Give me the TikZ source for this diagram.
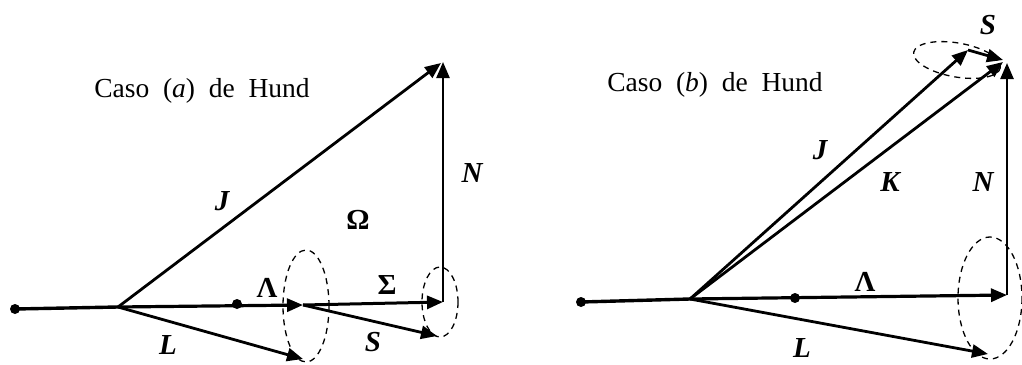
\documentclass[tikz,border=0pt]{standalone}
\usepackage{fontspec}
\setmainfont{Liberation Serif}
\usetikzlibrary{arrows.meta}
\begin{document}
\begin{tikzpicture}[x=1pt,y=-1pt,
  vec/.style={line width=2.8pt,-{Triangle[length=16pt,width=13pt]}},
  axis/.style={line width=3.4pt},
  prec/.style={line width=1.3pt,dash pattern=on 6pt off 5pt},
  pt/.style={circle,fill=black,inner sep=0pt,minimum size=10pt},
  lbl/.style={inner sep=0pt,font=\fontsize{29}{31}\selectfont\bfseries\itshape},
  glbl/.style={inner sep=0pt,font=\fontsize{29}{31}\selectfont\bfseries},
  ttl/.style={inner sep=0pt,font=\fontsize{27.5}{30}\selectfont}]
\useasboundingbox (0,0) rectangle (1022,364);
% ---------------- Case (a)
\node[ttl] (ta) at (202,91) {Caso\ \ (\textit{a})\ \ de\ \ Hund};
\node[pt] (da) at (15,309) {};
\coordinate (Oa) at (118,307);
\node[pt] (ma) at (237,304) {};
\coordinate (La) at (303,305);
\coordinate (Sa) at (443,302);
\coordinate (Ta) at (443,62);
\coordinate (Ja) at (441,63);
\coordinate (Lt) at (303,359);
\coordinate (St) at (437,336);
\draw[prec] (306,306) ellipse [x radius=23, y radius=56];
\draw[prec] (440,302) ellipse [x radius=18, y radius=35];
\draw[axis] (da.center) -- (Oa);
\draw[vec,line width=3.2pt] (Oa) -- (La);
\draw[vec,line width=3pt] (La) -- (Sa);
\draw[vec,line width=2.4pt] (Sa) -- (Ta);
\draw[vec] (Oa) -- (Ja);
\draw[vec] (Oa) -- (Lt);
\draw[vec] (La) -- (St);
\node[lbl] (lJa) at (222,201) {J};
\node[glbl] (lOa) at (358,220) {Ω};
\node[lbl] (lNa) at (472,173) {N};
\node[glbl] (lLama) at (267,288) {Λ};
\node[glbl] (lSiga) at (387,285) {Σ};
\node[lbl] (lLa) at (168,345) {L};
\node[lbl] (lSa) at (373,342) {S};
% ---------------- Case (b)
\node[ttl] (tb) at (715,85) {Caso\ \ (\textit{b})\ \ de\ \ Hund};
\node[pt] (db) at (581,302) {};
\coordinate (Ob) at (690,299);
\node[pt] (mb) at (795,298) {};
\coordinate (Lb) at (1007,295);
\coordinate (Nb) at (1007,63);
\coordinate (Kb) at (1003,62);
\coordinate (Jb) at (968,50);
\coordinate (Sb) at (1003,60);
\coordinate (Ltb) at (988,354);
\draw[prec] (957,60) ellipse [x radius=44, y radius=17, rotate=-10];
\draw[prec] (990,298) ellipse [x radius=32, y radius=61];
\draw[axis] (db.center) -- (Ob);
\draw[vec,line width=3.2pt] (Ob) -- (Lb);
\draw[vec,line width=2.4pt] (Lb) -- (Nb);
\draw[vec] (Ob) -- (Kb);
\draw[vec] (Ob) -- (Jb);
\draw[vec] (Jb) -- (Sb);
\draw[vec] (Ob) -- (Ltb);
\node[lbl] (lJb) at (820,150) {J};
\node[lbl] (lKb) at (890,182) {K};
\node[lbl] (lNb) at (983,182) {N};
\node[glbl] (lLamb) at (865,282) {Λ};
\node[lbl] (lLb) at (802,348) {L};
\node[lbl] (lSb) at (988,25) {S};
\end{tikzpicture}
\end{document}
